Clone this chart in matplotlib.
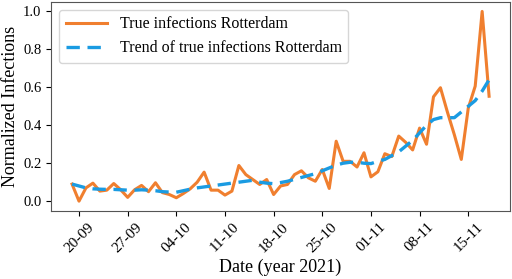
import numpy as np
import pandas as pd
import matplotlib
matplotlib.use("Agg")
import matplotlib.pyplot as plt
import matplotlib.dates as mdates

plt.rcParams['font.family'] = ['Liberation Serif', 'DejaVu Serif']

# daily data, 19-09-2021 .. 18-11-2021
dates = pd.date_range("2021-09-19", "2021-11-18", freq="D")

true_infections = [
    0.09, 0.00, 0.07, 0.095, 0.053, 0.058, 0.093, 0.06, 0.02, 0.06,
    0.083, 0.05, 0.097, 0.045, 0.035, 0.018, 0.04, 0.065, 0.10, 0.153,
    0.058, 0.058, 0.032, 0.053, 0.188, 0.14, 0.114, 0.088, 0.114, 0.035,
    0.08, 0.088, 0.14, 0.16, 0.123, 0.105, 0.167, 0.067, 0.316, 0.21,
    0.21, 0.18, 0.255, 0.128, 0.155, 0.25, 0.235, 0.343, 0.31, 0.27,
    0.385, 0.30, 0.55, 0.598, 0.47, 0.35, 0.22, 0.49, 0.606, 1.0,
    0.553,
]

trend = [
    0.09, 0.08, 0.07, 0.065, 0.063, 0.062, 0.062, 0.06, 0.058, 0.058,
    0.06, 0.058, 0.055, 0.05, 0.048, 0.047, 0.055, 0.063, 0.07, 0.075,
    0.08, 0.085, 0.09, 0.095, 0.10, 0.105, 0.11, 0.10, 0.095, 0.092,
    0.098, 0.105, 0.115, 0.125, 0.135, 0.145, 0.16, 0.175, 0.19, 0.20,
    0.205, 0.205, 0.20, 0.198, 0.21, 0.22, 0.24, 0.26, 0.29, 0.32,
    0.36, 0.40, 0.43, 0.44, 0.44, 0.44, 0.47, 0.50, 0.53, 0.58,
    0.64,
]

tick_dates = pd.date_range("2021-09-20", "2021-11-15", freq="7D")

fig, ax = plt.subplots(figsize=(5.12, 2.79), dpi=100)
fig.subplots_adjust(left=0.1, right=0.996, top=0.993, bottom=0.245)

ax.plot(dates, true_infections, color='#f07f2f', linewidth=2.2,
        label="True infections Rotterdam")
ax.plot(dates, trend, color='#1a9be2', linewidth=2.4, linestyle=(0, (4, 2.3)),
        label="Trend of true infections Rotterdam")

ax.set_xticks(tick_dates)
ax.xaxis.set_major_formatter(mdates.DateFormatter('%d-%m'))
ax.tick_params(axis='x', labelrotation=45, labelsize=11)
ax.tick_params(axis='y', labelsize=10.5)
for lbl in ax.get_xticklabels():
    lbl.set_ha('center')

ax.set_xlabel("Date (year 2021)", fontsize=13, labelpad=3)
ax.set_ylabel("Normalized Infections", fontsize=13, labelpad=3)
for s in ax.spines.values():
    s.set_color('#555555')

ax.legend(loc='upper left', fontsize=11.5, handlelength=2.6)

fig.savefig("out.png", dpi=100)
